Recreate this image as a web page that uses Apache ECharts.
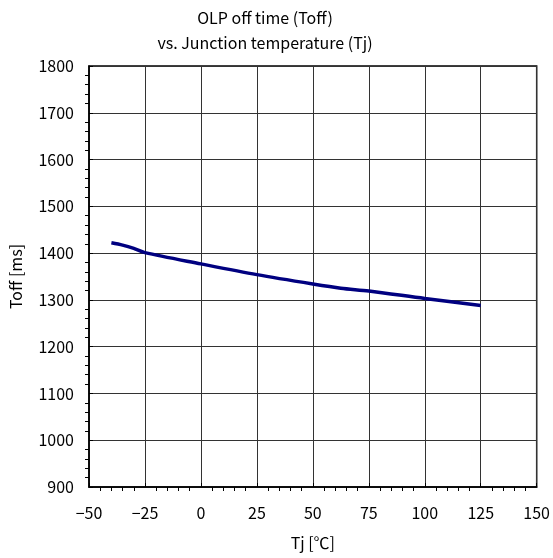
<!DOCTYPE html>
<html>
<head>
<meta charset="utf-8">
<script src="https://cdn.jsdelivr.net/npm/echarts@6/dist/echarts.min.js"></script>
<style>
  html, body { margin: 0; padding: 0; background: #fff; }
  #chart { width: 553px; height: 558px; }
</style>
</head>
<body>
<div id="chart"></div>
<script>
// 读取自图片的数据
const tjValues = [-40, -35, -30, -25, 0, 25, 50, 62.5, 75, 100, 125];
const toffValues = [1422, 1417, 1410, 1401, 1377, 1354, 1334, 1325, 1319, 1303, 1288];
const xTicks = [-50, -25, 0, 25, 50, 75, 100, 125, 150];
const yTicks = [900, 1000, 1100, 1200, 1300, 1400, 1500, 1600, 1700, 1800];

const font = '"Noto Sans CJK JP", "Noto Sans", sans-serif';
const chart = echarts.init(document.getElementById('chart'));

const option = {
  animation: false,
  title: {
    text: 'OLP off time (Toff)\nvs. Junction temperature (Tj)',
    left: 260,
    top: 1,
    textAlign: 'center',
    textStyle: { fontFamily: font, fontSize: 16, fontWeight: 'normal', color: '#000', lineHeight: 24.5 }
  },
  grid: {
    left: 89, top: 66, right: 15, bottom: 71,
    show: true, borderColor: '#000', borderWidth: 1.5, backgroundColor: '#fff'
  },
  xAxis: {
    type: 'value',
    min: xTicks[0], max: xTicks[xTicks.length - 1], interval: 25,
    name: 'Tj [℃]', nameLocation: 'middle', nameGap: 48,
    nameTextStyle: { fontFamily: font, fontSize: 16, color: '#000' },
    axisLine: { onZero: false, lineStyle: { color: '#000', width: 1.5 } },
    axisTick: { show: true, inside: true, length: 4, lineStyle: { color: '#000' } },
    // 负长度让次刻度朝内
    minorTick: { show: true, splitNumber: 5, length: -4, lineStyle: { color: '#000' } },
    axisLabel: { fontFamily: font, fontSize: 16, color: '#000', margin: 18,
      formatter: v => v < 0 ? '\u2212' + Math.abs(v) : String(v) },
    splitLine: { show: true, lineStyle: { color: '#333', width: 1 } }
  },
  yAxis: {
    type: 'value',
    min: yTicks[0], max: yTicks[yTicks.length - 1], interval: 100,
    name: 'Toff [ms]', nameLocation: 'middle', nameGap: 65, nameRotate: 90,
    nameTextStyle: { fontFamily: font, fontSize: 16, color: '#000' },
    axisLine: { onZero: false, lineStyle: { color: '#000', width: 1.5 } },
    axisTick: { show: true, inside: true, length: 4, lineStyle: { color: '#000' } },
    minorTick: { show: true, splitNumber: 5, length: -4, lineStyle: { color: '#000' } },
    axisLabel: { fontFamily: font, fontSize: 16, color: '#000', margin: 15,
      formatter: v => String(v) },
    splitLine: { show: true, lineStyle: { color: '#333', width: 1 } }
  },
  series: [{
    type: 'line',
    data: tjValues.map((t, i) => [t, toffValues[i]]),
    showSymbol: false,
    smooth: 0.3,
    lineStyle: { color: '#000080', width: 3.5 }
  }]
};
chart.setOption(option);
</script>
</body>
</html>
